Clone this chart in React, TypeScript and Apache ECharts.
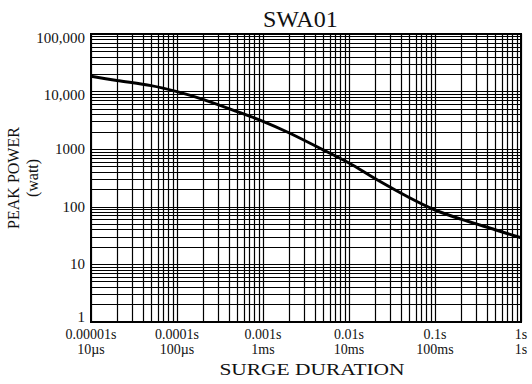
import { useEffect, useRef } from "react";
import * as echarts from "echarts";

const durations = [1e-5, 2e-5, 5e-5, 1e-4, 2e-4, 5e-4, 1e-3, 2e-3, 5e-3, 1e-2, 2e-2, 5e-2, 1e-1, 2e-1, 5e-1, 1];
const peakPower = [18500, 15600, 12700, 10000, 7350, 4500, 3050, 1930, 975, 575, 310, 145, 88, 61, 40, 29];
const xTickLabels = ["0.00001s\n10µs", "0.0001s\n100µs", "0.001s\n1ms", "0.01s\n10ms", "0.1s\n100ms", "1s\n1s"];
const yTickLabels = ["1", "10", "100", "1000", "10,000", "100,000"];
const xDecadeExps = [-5, -4, -3, -2, -1];
const yDecadeExps = [0, 1, 2, 3, 4];
const minorSteps = [2, 3, 4, 5, 6, 7, 8, 9];
const X_MIN = 1e-5;
const X_MAX = 1;
const Y_MIN = 1;
const Y_MAX = 100000;

export default function App() {
  const ref = useRef<HTMLDivElement>(null);
  useEffect(() => {
    if (!ref.current) return;
    const chart = echarts.init(ref.current, undefined, { renderer: "svg" });
    const gridLines: any[] = [];
    xDecadeExps.forEach((e) =>
      minorSteps.forEach((m) => {
        const v = m * Math.pow(10, e);
        gridLines.push({ coords: [[v, Y_MIN], [v, Y_MAX]] });
      })
    );
    yDecadeExps.forEach((e) =>
      minorSteps.forEach((m) => {
        const v = m * Math.pow(10, e);
        gridLines.push({ coords: [[X_MIN, v], [X_MAX, v]] });
      })
    );
    const labelFont = { fontFamily: "Liberation Serif", fontSize: 15, color: "#111" };
    chart.setOption({
      animation: false,
      title: {
        text: "SWA01",
        left: 258,
        top: 2,
        textStyle: { fontFamily: "Liberation Serif", fontSize: 24, fontWeight: "normal", color: "#111" },
      },
      graphic: [
        {
          type: "text",
          x: 312,
          y: 370,
          scaleX: 1.34,
          scaleY: 1,
          style: {
            text: "SURGE DURATION",
            fontFamily: "Liberation Serif",
            fontSize: 16,
            fill: "#111",
            textAlign: "center",
            textVerticalAlign: "middle",
          },
        },
      ],
      grid: {
        left: 91,
        right: 11,
        top: 34,
        bottom: 62,
        show: true,
        borderColor: "#000",
        borderWidth: 2,
        outerBoundsMode: "none",
        containLabel: false,
      },
      xAxis: {
        type: "log",
        logBase: 10,
        min: X_MIN,
        max: X_MAX,
        axisLine: { show: true, lineStyle: { color: "#000", width: 2 } },
        axisTick: { show: false },
        splitLine: { show: true, lineStyle: { color: "#000", width: 1.2 } },
        axisLabel: {
          margin: 5,
          fontFamily: "Liberation Serif",
          fontSize: 14,
          lineHeight: 15,
          color: "#111",
          hideOverlap: false,
          formatter: (v: number) => xTickLabels[Math.round(Math.log10(v)) + 5] ?? "",
        },
      },
      yAxis: {
        type: "log",
        logBase: 10,
        min: Y_MIN,
        max: Y_MAX,
        name: "PEAK POWER\n(watt)",
        nameLocation: "middle",
        nameRotate: 90,
        nameGap: 49,
        nameMoveOverlap: false,
        nameTextStyle: { fontFamily: "Liberation Serif", fontSize: 16, lineHeight: 19, color: "#111" },
        axisLine: { show: true, lineStyle: { color: "#000", width: 2 } },
        axisTick: { show: false },
        splitLine: { show: true, lineStyle: { color: "#000", width: 1.2 } },
        axisLabel: {
          margin: 6,
          ...labelFont,
          hideOverlap: false,
          formatter: (v: number) => {
            const i = Math.round(Math.log10(v));
            const t = yTickLabels[i] ?? "";
            if (i === 0) return "{up|" + t + "}";
            if (i >= 4) return "{down|" + t + "}";
            return t;
          },
          rich: {
            up: { ...labelFont, padding: [0, 0, 10, 0] },
            down: { ...labelFont, padding: [7, 0, 0, 0] },
          },
        },
      },
      series: [
        {
          type: "lines",
          coordinateSystem: "cartesian2d",
          z: 1,
          silent: true,
          polyline: false,
          lineStyle: { color: "#000", width: 1.2, opacity: 1 },
          data: gridLines,
        },
        {
          type: "line",
          z: 5,
          data: durations.map((d, i) => [d, peakPower[i]]),
          showSymbol: false,
          smooth: 0.3,
          lineStyle: { color: "#000", width: 3 },
        },
      ],
    });
    return () => chart.dispose();
  }, []);
  return <div ref={ref} style={{ position: "fixed", left: 0, top: 0, width: 532, height: 384, background: "#fff" }} />;
}
